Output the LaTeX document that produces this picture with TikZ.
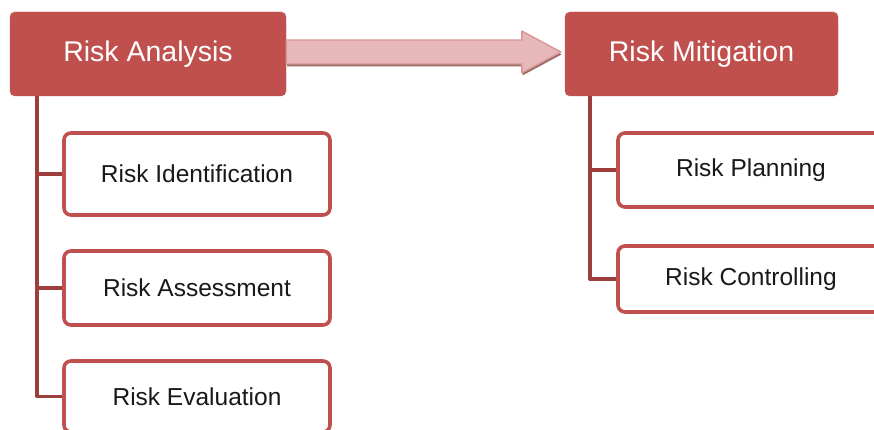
\documentclass[tikz,border=0pt]{standalone}
\usepackage{fontspec}
\setmainfont{Liberation Sans}
\usetikzlibrary{shadows}

\definecolor{riskred}{HTML}{C0504D}
\definecolor{linkred}{HTML}{9E3E3C}
\definecolor{arrowpink}{HTML}{E6B8B7}
\definecolor{arrowedge}{HTML}{D99694}

\begin{document}
\begin{tikzpicture}[x=1pt, y=1pt, line join=round,
    link/.style={draw=linkred, line width=3.4pt},
    bigarrow/.style={fill=arrowpink, draw=arrowedge, line width=1.4pt,
      drop shadow={shadow xshift=0.8pt, shadow yshift=-2.4pt, fill=linkred!70!black, opacity=0.7}}]

   \useasboundingbox (0,0) rectangle (874,-430);

   \begin{scope}[every node/.style={rectangle, rounded corners=5pt, fill=riskred, draw=riskred,
       text=white, font=\fontsize{28.5}{32}\selectfont, minimum height=84pt, inner sep=0pt}]
    \node[minimum width=276pt] (ra) at (148,-54) {Risk Analysis};
    \node[minimum width=273pt] (rm) at (701.5,-54) {Risk Mitigation};
   \end{scope}

   \begin{scope}[every node/.style={rectangle, rounded corners=7pt, fill=white, draw=riskred,
       line width=3.6pt, text=black!90, font=\fontsize{24.5}{28}\selectfont,
       minimum width=266pt, inner sep=0pt}]
    \node[minimum height=82pt] (ri) at (197,-174) {Risk Identification};
    \node[minimum height=74pt] (rs) at (197,-288) {Risk Assessment};
    \node[minimum height=71pt] (re) at (197,-396.5) {Risk Evaluation};
    \node[minimum height=74pt] (rp) at (751,-170) {Risk Planning};
    \node[minimum height=66pt] (rc) at (751,-279) {Risk Controlling};
   \end{scope}

\draw[bigarrow] ([yshift=14pt]ra.east) -- ([xshift=-43pt,yshift=14pt]rm.west)
  -- ([xshift=-43pt,yshift=23pt]rm.west) -- ([xshift=-4pt,yshift=2pt]rm.west)
  -- ([xshift=-43pt,yshift=-19pt]rm.west) -- ([xshift=-43pt,yshift=-10pt]rm.west)
  -- ([yshift=-10pt]ra.east) -- cycle;

\draw[link] ([xshift=27pt]ra.south west) |- (ri.west);
\draw[link] ([xshift=27pt]ra.south west) |- (rs.west);
\draw[link] ([xshift=27pt]ra.south west) |- (re.west);
\draw[link] ([xshift=25pt]rm.south west) |- (rp.west);
\draw[link] ([xshift=25pt]rm.south west) |- (rc.west);
\end{tikzpicture}
\end{document}
